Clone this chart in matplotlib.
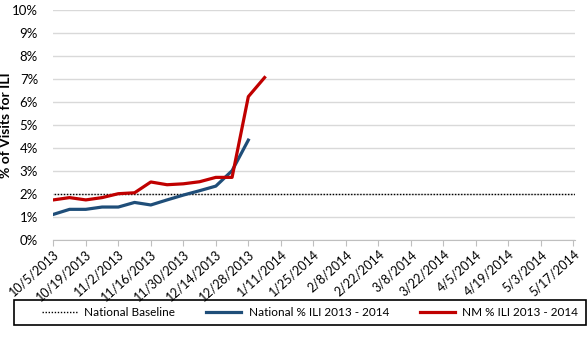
import datetime as dt
import matplotlib
matplotlib.use("Agg")
import matplotlib.pyplot as plt
import matplotlib.ticker as mticker
from matplotlib.patches import Rectangle

# weeks of the 2013-2014 season
start = dt.date(2013, 10, 5)
weeks = [start + dt.timedelta(weeks=i) for i in range(33)]
week_labels = [f"{d.month}/{d.day}/{d.year}" for d in weeks]

national_ili = [1.10, 1.32, 1.32, 1.42, 1.42, 1.62, 1.51, 1.73, 1.94, 2.13, 2.33, 3.00, 4.33]
nm_ili = [1.73, 1.83, 1.73, 1.83, 2.00, 2.04, 2.51, 2.39, 2.43, 2.52, 2.71, 2.71, 6.22, 7.05]
national_baseline = 2.0

plt.rcParams['font.family'] = ['Lato', 'DejaVu Sans']

fig = plt.figure(figsize=(5.88, 3.38), dpi=100)
ax = fig.add_axes([53.3 / 588, 1 - 239.7 / 338, (575 - 53.3) / 588, 230 / 338])

x = list(range(len(weeks)))
ax.plot([-0.5, len(weeks) + 1], [national_baseline] * 2, color='black', lw=1,
        ls=(0, (1, 1.2)), label='National Baseline', zorder=3)
ax.plot(x[:len(national_ili)], national_ili, color='#1F4E79', lw=2.3,
        label='National % ILI 2013 - 2014', zorder=4)
ax.plot(x[:len(nm_ili)], nm_ili, color='#C00000', lw=2.3,
        label='NM % ILI 2013 - 2014', zorder=5)

ax.set_xlim(0, 32.1)
ax.set_ylim(0, 10)
ax.yaxis.set_major_locator(mticker.MultipleLocator(1))
ax.yaxis.set_major_formatter(mticker.FuncFormatter(lambda v, p: f"{v:.0f}%"))
ax.grid(axis='y', color='#D9D9D9', lw=1)
ax.set_axisbelow(True)

ax.set_xticks(x[::2])
ax.set_xticklabels(week_labels[::2], rotation=42, ha='right', rotation_mode='anchor',
                   fontsize=9)
ax.tick_params(axis='x', length=4, color='#BFBFBF', pad=2)
ax.tick_params(axis='y', length=0, labelsize=9.5, pad=11)

for s in ['top', 'right', 'left']:
    ax.spines[s].set_visible(False)
ax.spines['bottom'].set_color('#BFBFBF')

ax.set_ylabel('% of Visits for ILI', fontsize=10, fontweight='bold')
ax.yaxis.set_label_coords((12 - 53.3) / 521.7, 0.5)

# legend box
fig.add_artist(Rectangle((14 / 588, 1 - 325 / 338), 572 / 588, 25 / 338,
                         transform=fig.transFigure, fill=False, edgecolor='black', lw=1.2))
fig.legend(loc='center', bbox_to_anchor=(310 / 588, 1 - 312.5 / 338), ncol=3,
           fontsize=8.5, frameon=False, handlelength=3.0, handletextpad=0.6,
           columnspacing=2.6, borderaxespad=0, borderpad=0)

fig.savefig('out.png', dpi=100)
